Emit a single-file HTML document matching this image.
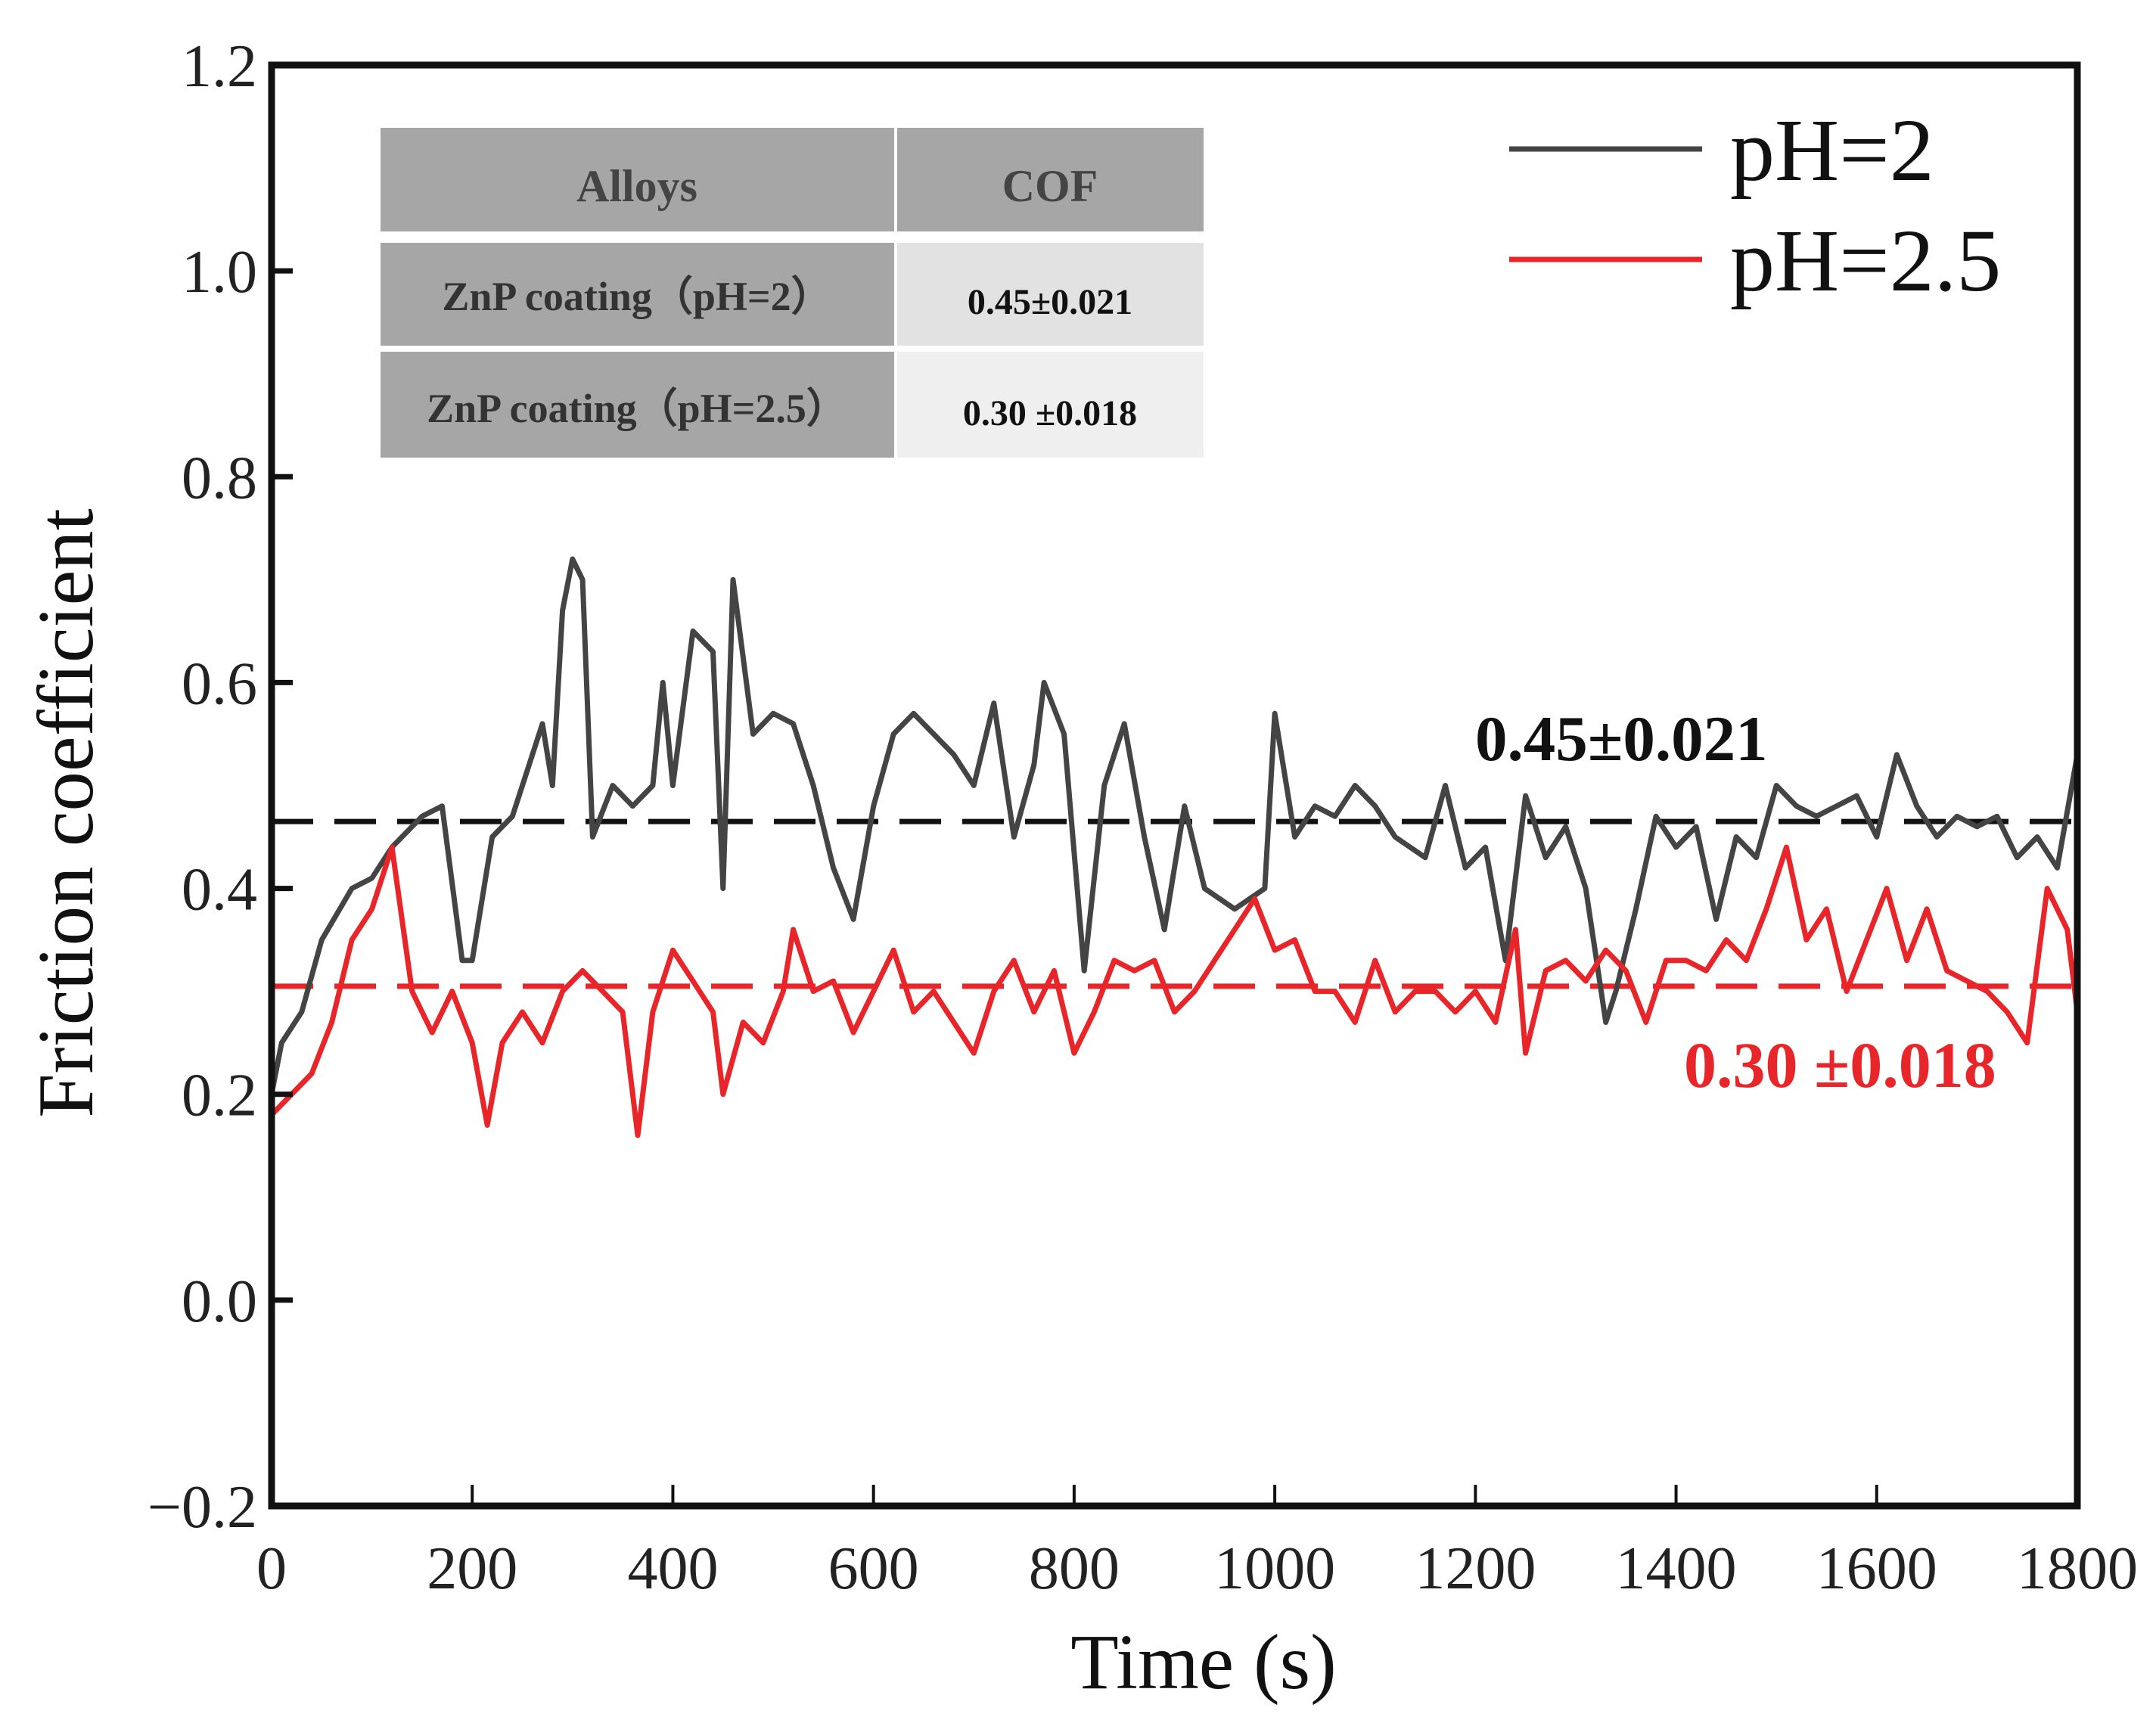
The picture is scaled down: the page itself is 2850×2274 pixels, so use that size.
<!DOCTYPE html>
<html><head><meta charset="utf-8">
<style>
html,body{margin:0;padding:0;background:#fff;}
svg{display:block;font-family:"Liberation Serif",serif;}
</style></head>
<body>
<svg id="chart" width="2850" height="2274" viewBox="0 0 2850 2274" xmlns="http://www.w3.org/2000/svg">
  <rect width="2850" height="2274" fill="#fff"/>
  <g id="plot"></g>
  <g id="table">
    <rect x="503" y="169" width="679" height="137" fill="#a6a6a6"/>
    <rect x="1186" y="169" width="405" height="137" fill="#a6a6a6"/>
    <rect x="503" y="321" width="679" height="136" fill="#a6a6a6"/>
    <rect x="1186" y="321" width="405" height="136" fill="#e2e2e2"/>
    <rect x="503" y="465" width="679" height="140" fill="#a6a6a6"/>
    <rect x="1186" y="465" width="405" height="140" fill="#efefef"/>
    <text x="842" y="266" font-size="60" font-weight="bold" fill="#444" text-anchor="middle">Alloys</text>
    <text x="1388" y="266" font-size="60" font-weight="bold" fill="#444" text-anchor="middle">COF</text>
    <text x="842" y="410" font-size="54" font-weight="bold" fill="#333" text-anchor="middle">ZnP coating（pH=2）</text>
    <text x="1388" y="415" font-size="48" font-weight="bold" fill="#111" text-anchor="middle">0.45±0.021</text>
    <text x="842" y="558" font-size="54" font-weight="bold" fill="#333" text-anchor="middle">ZnP coating（pH=2.5）</text>
    <text x="1388" y="562" font-size="48" font-weight="bold" fill="#111" text-anchor="middle">0.30 ±0.018</text>
  </g>
  <g>
    <line x1="1995" y1="197" x2="2250" y2="197" stroke="#444" stroke-width="7"/>
    <text x="2287" y="238" font-size="118" fill="#111">pH=2</text>
    <line x1="1995" y1="343" x2="2250" y2="343" stroke="#e8262a" stroke-width="7"/>
    <text x="2287" y="384" font-size="118" fill="#111">pH=2.5</text>
  </g>
  <text x="1950" y="1005" font-size="85" font-weight="bold" fill="#111" text-anchor="start">0.45±0.021</text>
  <text x="2226" y="1437" font-size="86" font-weight="bold" fill="#e8262a" text-anchor="start">0.30 ±0.018</text>
  <text x="1591" y="2232" font-size="104" fill="#111" text-anchor="middle">Time (s)</text>
  <text transform="translate(122,1075) rotate(-90)" font-size="105" fill="#111" text-anchor="middle">Friction coefficient</text>
</svg>
<script>
const xTicks = [0,200,400,600,800,1000,1200,1400,1600,1800];
const yTicks = [-0.2,0.0,0.2,0.4,0.6,0.8,1.0,1.2];
const yTickLabels = ["\u22120.2","0.0","0.2","0.4","0.6","0.8","1.0","1.2"];
const timeBlack = [0,10,30,50,80,100,120,150,170,190,200,220,240,260,270,280,290,300,310,320,340,360,380,390,400,420,440,450,460,480,500,520,540,560,580,600,620,640,660,680,700,720,740,760,770,790,810,830,850,870,890,910,930,960,990,1000,1020,1040,1060,1080,1100,1120,1150,1170,1190,1210,1230,1250,1270,1290,1310,1330,1340,1360,1380,1400,1420,1440,1460,1480,1500,1520,1540,1560,1580,1600,1620,1640,1660,1680,1700,1720,1740,1760,1780,1800];
const cofPH2 = [0.2,0.25,0.28,0.35,0.4,0.41,0.44,0.47,0.48,0.33,0.33,0.45,0.47,0.53,0.56,0.5,0.67,0.72,0.7,0.45,0.5,0.48,0.5,0.6,0.5,0.65,0.63,0.4,0.7,0.55,0.57,0.56,0.5,0.42,0.37,0.48,0.55,0.57,0.55,0.53,0.5,0.58,0.45,0.52,0.6,0.55,0.32,0.5,0.56,0.45,0.36,0.48,0.4,0.38,0.4,0.57,0.45,0.48,0.47,0.5,0.48,0.45,0.43,0.5,0.42,0.44,0.33,0.49,0.43,0.46,0.4,0.27,0.3,0.38,0.47,0.44,0.46,0.37,0.45,0.43,0.5,0.48,0.47,0.48,0.49,0.45,0.53,0.48,0.45,0.47,0.46,0.47,0.43,0.45,0.42,0.53];
const timeRed = [0,20,40,60,80,100,120,140,160,180,200,215,230,250,270,290,310,330,350,365,380,400,420,440,450,470,490,510,520,540,560,580,600,620,640,660,680,700,720,740,760,780,800,820,840,860,880,900,920,940,960,980,1000,1020,1040,1060,1080,1100,1120,1140,1160,1180,1200,1220,1240,1250,1270,1290,1310,1330,1350,1370,1390,1410,1430,1450,1470,1490,1510,1530,1550,1570,1590,1610,1630,1650,1670,1690,1710,1730,1750,1770,1790,1800];
const cofPH25 = [0.18,0.2,0.22,0.27,0.35,0.38,0.44,0.3,0.26,0.3,0.25,0.17,0.25,0.28,0.25,0.3,0.32,0.3,0.28,0.16,0.28,0.34,0.31,0.28,0.2,0.27,0.25,0.3,0.36,0.3,0.31,0.26,0.3,0.34,0.28,0.3,0.27,0.24,0.3,0.33,0.28,0.32,0.24,0.28,0.33,0.32,0.33,0.28,0.3,0.33,0.36,0.39,0.34,0.35,0.3,0.3,0.27,0.33,0.28,0.3,0.3,0.28,0.3,0.27,0.36,0.24,0.32,0.33,0.31,0.34,0.32,0.27,0.33,0.33,0.32,0.35,0.33,0.38,0.44,0.35,0.38,0.3,0.35,0.4,0.33,0.38,0.32,0.31,0.3,0.28,0.25,0.4,0.36,0.28];
const meanPH2 = [0.465];
const meanPH25 = [0.305];

const NS = "http://www.w3.org/2000/svg";
const L = 359, R = 2746, T = 86, B = 1991;
const xMin = 0, xMax = 1800, yMin = -0.2, yMax = 1.2;
function xs(v){ return L + (v - xMin) / (xMax - xMin) * (R - L); }
function ys(v){ return B - (v - yMin) / (yMax - yMin) * (B - T); }
const plot = document.getElementById('plot');
function mk(tag, attrs){ const e = document.createElementNS(NS, tag); for (const k in attrs) e.setAttribute(k, attrs[k]); plot.appendChild(e); return e; }

let d1 = mk('line', {x1: L, x2: R, y1: ys(meanPH2[0]), y2: ys(meanPH2[0]), stroke: '#111', 'stroke-width': 7, 'stroke-dasharray': '55 28'});


let d2 = mk('line', {x1: L, x2: R, y1: ys(meanPH25[0]), y2: ys(meanPH25[0]), stroke: '#e8262a', 'stroke-width': 7, 'stroke-dasharray': '55 28'});



function pathFrom(tx, ty){ return tx.map((t,i)=> (i?'L':'M') + xs(t).toFixed(1) + ',' + ys(ty[i]).toFixed(1)).join(' '); }
let sb = mk('path', {d: pathFrom(timeBlack, cofPH2), fill: 'none', stroke: '#444', 'stroke-width': 7, 'stroke-linejoin': 'round'});


let sr = mk('path', {d: pathFrom(timeRed, cofPH25), fill: 'none', stroke: '#e8262a', 'stroke-width': 7, 'stroke-linejoin': 'round'});



let fr = mk('rect', {x: L, y: T, width: R - L, height: B - T, fill: 'none', stroke: '#111', 'stroke-width': 9});



xTicks.forEach(v => {
  const x = xs(v);
  let t = mk('line', {x1: x, x2: x, y1: B, y2: B - 28, stroke: '#111', 'stroke-width': 4});
  
  
  let lb = mk('text', {x: x, y: 2100, 'font-size': 80, 'text-anchor': 'middle', fill: '#222'});
  lb.textContent = String(v);
  
  
});
yTicks.forEach((v, i) => {
  const y = ys(v);
  let t = mk('line', {x1: L, x2: L + 28, y1: y, y2: y, stroke: '#111', 'stroke-width': 7});
  
  
  let lb = mk('text', {x: 340, y: y + 28, 'font-size': 80, 'text-anchor': 'end', fill: '#222'});
  lb.textContent = yTickLabels[i];
  
  
});
</script>
</body></html>
